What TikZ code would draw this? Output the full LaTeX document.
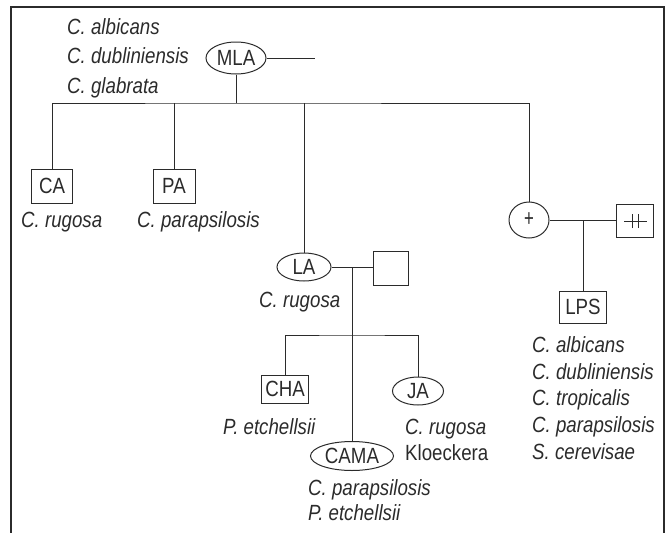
\documentclass[tikz,border=0pt]{standalone}
\usepackage{fontspec}
\setmainfont{Liberation Sans}[FakeStretch=0.85]
\usepackage{xcolor}
\usetikzlibrary{shapes.geometric,positioning}
\definecolor{ink}{HTML}{2B2B2B}
\tikzset{
  every node/.style={font=\fontsize{22}{27}\selectfont,text=ink},
  box/.style={draw=ink,line width=1pt,rectangle,inner sep=0pt},
  oval/.style={draw=ink,line width=1pt,ellipse,inner sep=0pt},
  sp/.style={font=\fontsize{22}{27}\selectfont\itshape,align=left,anchor=west,inner sep=0pt},
  ln/.style={draw=ink,line width=1pt},
  frame/.style={draw=ink,line width=1.6pt},
}

\begin{document}
\begin{tikzpicture}[x=1pt,y=-1pt]
\useasboundingbox (0,0) rectangle (667,533);
% frame, open at the bottom
\draw[frame] (11,533) -- (11,7) -- (664,7) -- (664,533);

% top
\node[oval,minimum width=60,minimum height=32] (MLA) at (236,58) {MLA};
\node[sp,font=\fontsize{22}{29.5}\selectfont\itshape] (mlasp) at (67,58)
  {C. albicans\\C. dubliniensis\\C. glabrata};
\coordinate (mlaend) at (315,58);
\coordinate (bar) at (236,103);
\draw[ln] (MLA.east) -- (mlaend);
\draw[ln] (MLA.south) -- (bar);

% first row
\node[box,minimum width=41,minimum height=34] (CA) at (52,186) {CA};
\node[box,minimum width=42,minimum height=34] (PA) at (174,186) {PA};
\node[oval,minimum width=40,minimum height=36,font=\fontsize{24}{27}\selectfont\addfontfeature{FakeStretch=0.7}] (plus) at (529,220) {+};
\node[sp] (casp) at (21,222) {C. rugosa};
\node[sp] (pasp) at (137,222) {C. parapsilosis};
\draw[ln] (CA.north) |- (bar) -| (plus.north);
\draw[ln] (PA.north) -- (PA.north |- bar);

% LA branch
\node[oval,minimum width=54,minimum height=28] (LA) at (304,267) {LA};
\node[box,minimum width=35,minimum height=34] (sq) at (391,268) {};
\node[sp] (lasp) at (259,302) {C. rugosa};
\draw[ln] (LA.north) -- (LA.north |- bar);
\draw[ln] (LA.east) -- (sq.west |- LA.east);
\coordinate (j2) at (352,267);
\coordinate (j3) at (352,335);

\node[box,minimum width=47,minimum height=28] (CHA) at (285,389) {CHA};
\node[oval,minimum width=51,minimum height=28] (JA) at (418,391) {JA};
\node[oval,minimum width=83,minimum height=29] (CAMA) at (352,456) {CAMA};
\node[sp] (chasp) at (223,427) {P. etchellsii};
\node[sp,font=\fontsize{22}{26}\selectfont] (jasp) at (405,440) {\textit{C. rugosa}\\Kloeckera};
\node[sp,font=\fontsize{22}{25.5}\selectfont\itshape] (camasp) at (308,500) {C. parapsilosis\\P. etchellsii};
\draw[ln] (j2) -- (CAMA.north);
\draw[ln] (CHA.north) |- (j3) -| (JA.north);

% plus branch
\node[box,minimum width=37,minimum height=33] (pp) at (635,221) {};
\draw[ln] ([xshift=-11]pp.center) -- ([xshift=12]pp.center);
\draw[ln] ([xshift=-3,yshift=-7]pp.center) -- ([xshift=-3,yshift=7]pp.center);
\draw[ln] ([xshift=3,yshift=-7]pp.center) -- ([xshift=3,yshift=7]pp.center);
\coordinate (j4) at (583,220);
\draw[ln] (plus.east) -- (pp.west |- plus.east);
\node[box,minimum width=47,minimum height=32] (LPS) at (583,307) {LPS};
\node[sp,font=\fontsize{22}{26.7}\selectfont\itshape] (lpssp) at (532,398)
  {C. albicans\\C. dubliniensis\\C. tropicalis\\C. parapsilosis\\S. cerevisae};
\draw[ln] (j4) -- (LPS.north);
\end{tikzpicture}
\end{document}
